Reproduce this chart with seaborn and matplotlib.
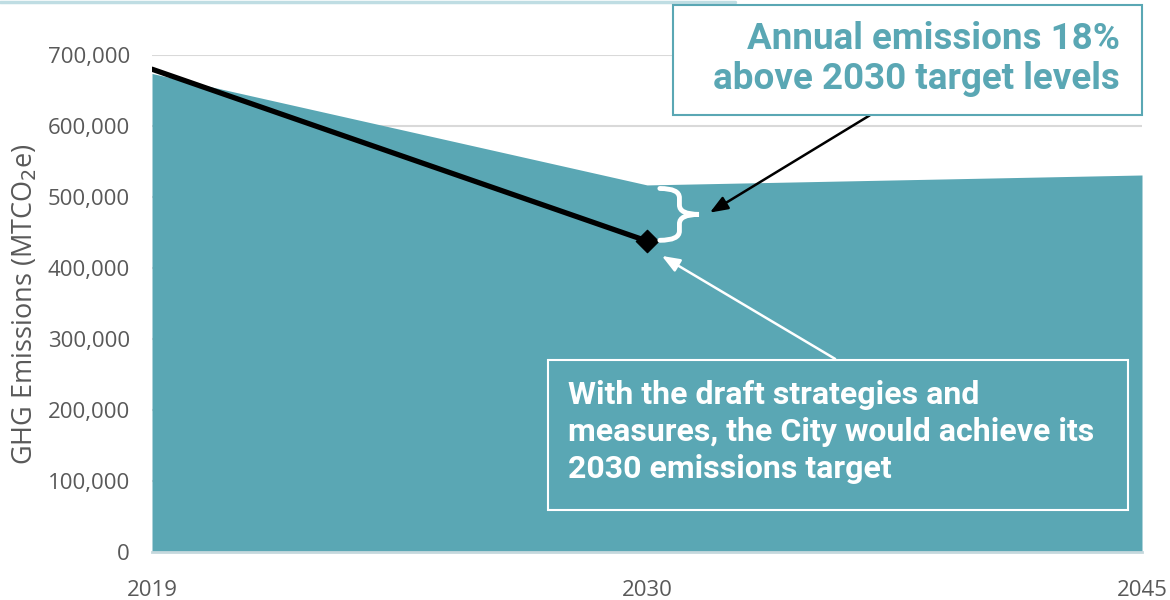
import numpy as np
import pandas as pd
import seaborn as sns
import matplotlib.pyplot as plt
from matplotlib.patches import Rectangle, PathPatch
from matplotlib.path import Path
from matplotlib.lines import Line2D
from matplotlib.ticker import FuncFormatter

# data
years = ['2019', '2030', '2045']
business_as_usual = [674000, 517000, 531000]
target_years = ['2019', '2030']
target_path = [680000, 438000]

teal = '#5AA7B4'
tick_grey = '#595959'

sns.set_theme(style='white')
plt.rcParams['font.family'] = ['Open Sans', 'DejaVu Sans']

fig = plt.figure(figsize=(11.7, 6), dpi=100)
ax = fig.add_axes([152 / 1170, 1 - 552 / 600, (1142 - 152) / 1170, (552 - 55) / 600])

x_pos = np.arange(len(years))
df_area = pd.DataFrame({'x': x_pos, 'emissions': business_as_usual})
df_line = pd.DataFrame({'x': x_pos[:len(target_years)], 'emissions': target_path})

ax.fill_between(df_area['x'], 0, df_area['emissions'], color=teal, lw=0, zorder=2)
sns.lineplot(data=df_line, x='x', y='emissions', ax=ax, color='black', lw=3.8, zorder=4)
sns.scatterplot(data=df_line.iloc[[-1]], x='x', y='emissions', ax=ax, marker='D',
                s=130, color='black', edgecolor='black', zorder=5)

ax.set_xlim(0, 2)
ax.set_ylim(0, 700000)
ax.set_yticks(np.arange(0, 700001, 100000))
ax.yaxis.set_major_formatter(FuncFormatter(lambda v, p: f'{int(v):,}'))
ax.set_xticks(x_pos)
ax.set_xticklabels(years)
ax.grid(axis='y', color='#D9D9D9', lw=1.5, zorder=0)
ax.set_axisbelow(True)
ax.tick_params(axis='both', labelsize=16, colors=tick_grey, length=0)
ax.tick_params(axis='y', pad=16)
ax.tick_params(axis='x', pad=20)
for s in ['top', 'right', 'left']:
    ax.spines[s].set_visible(False)
ax.spines['bottom'].set_color('#C5D8DD')
ax.spines['bottom'].set_linewidth(2)
ax.spines['bottom'].set_zorder(6)
ax.set_xlabel('')
ax.set_ylabel('GHG Emissions (MTCO$_2$e)', fontsize=19.5, color=tick_grey, labelpad=6)

# brace between target and projected emissions in 2030
def brace(x0, y0, y1, w):
    ym = (y0 + y1) / 2
    r = (y1 - y0) * 0.18
    verts = [(x0, y1), (x0 + w / 2, y1), (x0 + w / 2, y1 - r),
             (x0 + w / 2, ym + r), (x0 + w / 2, ym), (x0 + w, ym),
             (x0 + w / 2, ym), (x0 + w / 2, ym - r),
             (x0 + w / 2, y0 + r), (x0 + w / 2, y0), (x0, y0)]
    codes = [Path.MOVETO, Path.CURVE3, Path.CURVE3, Path.LINETO, Path.CURVE3, Path.CURVE3,
             Path.CURVE3, Path.CURVE3, Path.LINETO, Path.CURVE3, Path.CURVE3]
    return PathPatch(Path(verts, codes), fill=False, ec='white', lw=3.5,
                     capstyle='round', zorder=6)

ax.add_patch(brace(1.026, 439000, 512000, 0.079))

# arrows
ax.annotate('', xy=(1.127, 478000), xytext=(1.45, 615000),
            arrowprops=dict(arrowstyle='-|>,head_length=0.9,head_width=0.35',
                            color='black', lw=1.8, shrinkA=0, shrinkB=0),
            annotation_clip=False, zorder=7)
ax.annotate('', xy=(1.03, 417000), xytext=(1.38, 272000),
            arrowprops=dict(arrowstyle='-|>,head_length=0.9,head_width=0.35',
                            color='white', lw=1.8, shrinkA=0, shrinkB=0),
            annotation_clip=False, zorder=7)

# callout boxes (figure pixel coords)
def px(x, y):
    return x / 1170, 1 - y / 600

bx, by = px(673, 115)
fig.add_artist(Rectangle((bx, by), (1142 - 673) / 1170, (115 - 5) / 600,
                         transform=fig.transFigure, fc='white', ec=teal, lw=1.5, zorder=8))
tx, ty = px(1120, 59)
fig.text(tx, ty, 'Annual emissions 18%\nabove 2030 target levels', ha='right', va='center',
         color=teal, fontsize=26.5, fontweight='bold', family=['Roboto', 'DejaVu Sans'],
         linespacing=1.16, zorder=9)

bx, by = px(548, 510)
fig.add_artist(Rectangle((bx, by), (1128 - 548) / 1170, (510 - 360) / 600,
                         transform=fig.transFigure, fc='none', ec='white', lw=1.5, zorder=8))
tx, ty = px(568, 432)
fig.text(tx, ty, 'With the draft strategies and\nmeasures, the City would achieve its\n2030 emissions target',
         ha='left', va='center', color='white', fontsize=23, fontweight='bold',
         family=['Roboto', 'DejaVu Sans'], linespacing=1.3, zorder=9)

# thin header rule at top of the page
fig.add_artist(Line2D([0, 735 / 1170], [1 - 1.5 / 600, 1 - 1.5 / 600], color='#BFDDE3', lw=2.5))

fig.savefig('out.png', dpi=100)
